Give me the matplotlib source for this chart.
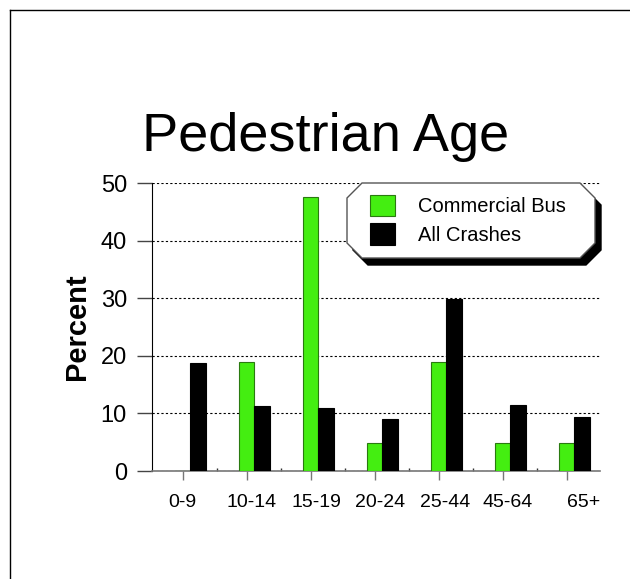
import matplotlib
matplotlib.use("Agg")
import matplotlib.pyplot as plt
import matplotlib.transforms as mtransforms
from matplotlib.patches import Polygon
from matplotlib.lines import Line2D
import numpy as np

plt.rcParams['font.family'] = ['Liberation Sans', 'DejaVu Sans']

# data
age_groups = ['0-9', '10-14', '15-19', '20-24', '25-44', '45-64', '65+']
commercial_bus = [0.0, 19.0, 47.6, 4.8, 19.0, 4.8, 4.8]
all_crashes = [18.8, 11.2, 11.0, 9.1, 29.8, 11.4, 9.4]
y_ticks = [0, 10, 20, 30, 40, 50]

W, H = 630, 579
GREEN = '#44EE11'


def px(x, y):
    # figure pixel (from top-left) to figure fraction
    return (x / W, 1 - y / H)


fig = plt.figure(figsize=(W / 100, H / 100), dpi=100)
fig.patch.set_facecolor('white')

# outer frame (only top and left edges visible)
fig.add_artist(Line2D([px(10, 0)[0], px(10, 0)[0]], [px(0, 10)[1], 0], color='black', lw=1))
fig.add_artist(Line2D([px(10, 0)[0], 1], [px(0, 10)[1], px(0, 10)[1]], color='black', lw=1))

left, top = px(152, 183)
right, bottom = px(600, 471)
ax = fig.add_axes([left, bottom, right - left, top - bottom])

x = np.arange(len(age_groups))
bw = 0.24
b1 = ax.bar(x, commercial_bus, width=bw, color=GREEN, edgecolor='#2a7a10', linewidth=0.8,
            label='Commercial Bus', zorder=3)
b2 = ax.bar(x + bw, all_crashes, width=bw, color='black', edgecolor='black', linewidth=0.8,
            label='All Crashes', zorder=3)

ax.set_xlim(-0.48, 6.52)
ax.set_ylim(0, 50)
ax.set_yticks(y_ticks)
ax.set_yticklabels([str(v) for v in y_ticks], fontsize=17)
ax.set_xticks(x)
ax.set_xticklabels(age_groups, fontsize=14)
ax.set_xticks(x[:-1] + 0.53, minor=True)

ax.yaxis.grid(True, linestyle=(0, (2, 2)), color='black', linewidth=0.8, zorder=0)
ax.tick_params(axis='y', direction='out', length=11, width=1, color='#444444', pad=7)
ax.tick_params(axis='x', direction='out', length=6.5, width=1, color='#777777', pad=10)
ax.tick_params(axis='x', which='minor', direction='in', length=2, width=1, color='#333333')

for s in ['top', 'right']:
    ax.spines[s].set_visible(False)
ax.spines['left'].set_color('black')
ax.spines['bottom'].set_color('#777777')
ax.spines['bottom'].set_linewidth(1.2)

# small rightward nudges of the category labels, as in the original
shifts = [0, 5, 6, 5, 6, 5, 17]
for lab, s in zip(ax.get_xticklabels(), shifts):
    lab.set_transform(lab.get_transform() + mtransforms.ScaledTranslation(s / 100, 0, fig.dpi_scale_trans))

ax.set_ylabel('Percent', fontsize=21, fontweight='bold')
ax.yaxis.set_label_coords((91 - 152) / (600 - 152), 0.5)

fig.text(px(142, 0)[0], px(0, 151)[1], 'Pedestrian Age', fontsize=39, va='baseline', ha='left')

# legend box: chamfered with a drop shadow
L, R, T, B, c = 347, 595, 183, 258, 15


def box(dx, dy):
    pts = [(L + c, T), (R - c, T), (R, T + c), (R, B - c), (R - c, B), (L + c, B), (L, B - c), (L, T + c)]
    return [px(p[0] + dx, p[1] + dy) for p in pts]


ax.add_patch(Polygon(box(6, 7), closed=True, transform=fig.transFigure, facecolor='black',
                     edgecolor='black', zorder=5, clip_on=False))
ax.add_patch(Polygon(box(0, 0), closed=True, transform=fig.transFigure, facecolor='white',
                     edgecolor='#555555', linewidth=1, zorder=6, clip_on=False))

leg = ax.legend(handles=[b1, b2], loc='upper left', bbox_to_anchor=px(370, 195),
                bbox_transform=fig.transFigure, frameon=False, fontsize=14.5,
                handlelength=1.25, handleheight=1.25, handletextpad=1.15, labelspacing=0.35,
                borderpad=0, borderaxespad=0)
leg.set_zorder(7)

fig.savefig('out.png', dpi=100, facecolor='white')
